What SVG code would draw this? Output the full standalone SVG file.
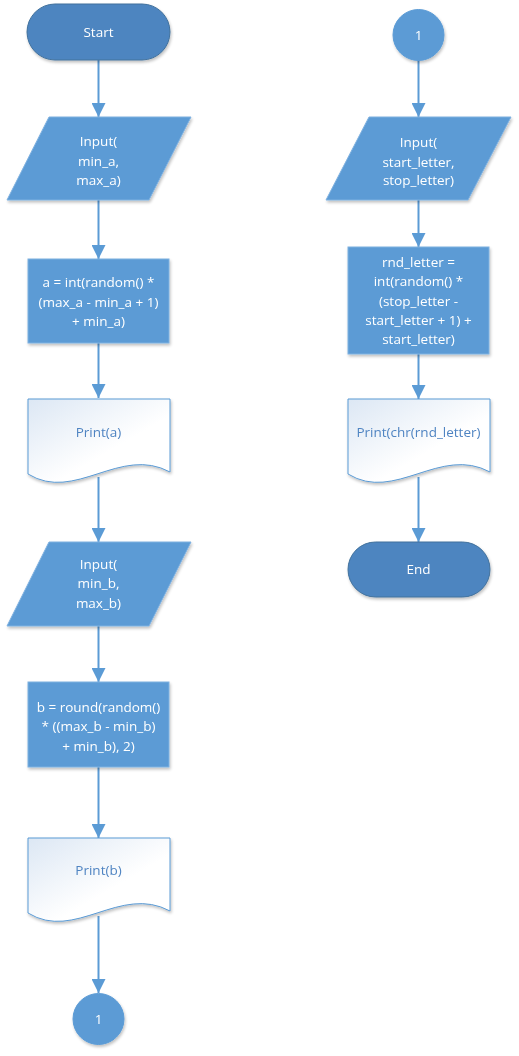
<svg xmlns="http://www.w3.org/2000/svg" width="519" height="1056" viewBox="0 0 519 1056">
<style>
text{font-family:"Open Sans","Liberation Sans",sans-serif;font-size:13.5px;text-anchor:middle}
.w{fill:#ffffff}
.b{fill:#4f84c2}
.term{fill:#4d85c0;stroke:#41719c;stroke-width:1}
.proc{fill:#5b9bd5;stroke:#7fb1e0;stroke-width:1}
.doc{fill:url(#dg);stroke:#5b9bd5;stroke-width:1}
.conn line{stroke:#5b9bd5;stroke-width:2;fill:none}
</style>
<defs>
<linearGradient id="dg" x1="0" y1="0" x2="1" y2="1">
<stop offset="0" stop-color="#dce7f4"/>
<stop offset="0.6" stop-color="#ffffff"/>
<stop offset="1" stop-color="#ffffff"/>
</linearGradient>
<filter id="sh" x="-10%" y="-10%" width="125%" height="130%">
<feGaussianBlur in="SourceAlpha" stdDeviation="1.5"/>
<feOffset dx="1" dy="2" result="o"/>
<feComponentTransfer><feFuncA type="linear" slope="0.25"/></feComponentTransfer>
<feMerge><feMergeNode/><feMergeNode in="SourceGraphic"/></feMerge>
</filter>
<marker id="ah" markerUnits="userSpaceOnUse" markerWidth="14" markerHeight="14" refX="14" refY="7" orient="auto">
<path d="M0,0 L14,7 L0,14 Z" fill="#5b9bd5"/>
</marker>
</defs>

<g class="conn" id="connectors">
<line x1="98.5" y1="60" x2="98.5" y2="117" marker-end="url(#ah)"/>
<line x1="98.5" y1="200" x2="98.5" y2="259" marker-end="url(#ah)"/>
<line x1="98.5" y1="343" x2="98.5" y2="398" marker-end="url(#ah)"/>
<line x1="98.5" y1="477" x2="98.5" y2="542" marker-end="url(#ah)"/>
<line x1="98.5" y1="626" x2="98.5" y2="682" marker-end="url(#ah)"/>
<line x1="98.5" y1="767" x2="98.5" y2="838" marker-end="url(#ah)"/>
<line x1="98.5" y1="916" x2="98.5" y2="993" marker-end="url(#ah)"/>
<line x1="418.5" y1="60" x2="418.5" y2="117" marker-end="url(#ah)"/>
<line x1="418.5" y1="200" x2="418.5" y2="247" marker-end="url(#ah)"/>
<line x1="418.5" y1="354" x2="418.5" y2="399" marker-end="url(#ah)"/>
<line x1="418.5" y1="477" x2="418.5" y2="542" marker-end="url(#ah)"/>
</g>

<g id="start" filter="url(#sh)">
<rect class="term" x="27" y="4" width="143" height="56" rx="28" ry="28"/>
<text class="w" x="98.5" y="37">Start</text>
</g>

<g id="input_a" filter="url(#sh)">
<polygon class="proc" points="49,117 191,117 149,200 7,200"/>
<text class="w" x="98.5" y="146">Input(</text>
<text class="w" x="98.5" y="166">min_a,</text>
<text class="w" x="98.5" y="185">max_a)</text>
</g>

<g id="calc_a" filter="url(#sh)">
<rect class="proc" x="28" y="259" width="141" height="84"/>
<text class="w" x="98.5" y="287">a = int(random() *</text>
<text class="w" x="98.5" y="307">(max_a - min_a + 1)</text>
<text class="w" x="98.5" y="326">+ min_a)</text>
</g>

<g id="print_a" filter="url(#sh)">
<path class="doc" d="M28,399 H170 V472 C120,445 75,503 28,474 Z"/>
<text class="b" x="98.5" y="437">Print(a)</text>
</g>

<g id="input_b" filter="url(#sh)">
<polygon class="proc" points="49,542 191,542 149,626 7,626"/>
<text class="w" x="98.5" y="569">Input(</text>
<text class="w" x="98.5" y="588">min_b,</text>
<text class="w" x="98.5" y="608">max_b)</text>
</g>

<g id="calc_b" filter="url(#sh)">
<rect class="proc" x="28" y="682" width="141" height="85"/>
<text class="w" x="98.5" y="712">b = round(random()</text>
<text class="w" x="98.5" y="731">* ((max_b - min_b)</text>
<text class="w" x="98.5" y="751">+ min_b), 2)</text>
</g>

<g id="print_b" filter="url(#sh)">
<path class="doc" d="M28,838 H170 V911 C120,884 75,942 28,913 Z"/>
<text class="b" x="98.5" y="875">Print(b)</text>
</g>

<g id="conn_out" filter="url(#sh)">
<circle class="proc" cx="98.5" cy="1019" r="25.5" style="stroke:#5b9bd5"/>
<text class="w" x="98.5" y="1024">1</text>
</g>

<g id="conn_in" filter="url(#sh)">
<circle class="proc" cx="418.5" cy="35" r="25.5" style="stroke:#5b9bd5"/>
<text class="w" x="418.5" y="40">1</text>
</g>

<g id="input_letters" filter="url(#sh)">
<polygon class="proc" points="369,117 511,117 468,200 326,200"/>
<text class="w" x="418.5" y="147">Input(</text>
<text class="w" x="418.5" y="167">start_letter,</text>
<text class="w" x="418.5" y="185">stop_letter)</text>
</g>

<g id="calc_letter" filter="url(#sh)">
<rect class="proc" x="348" y="247" width="141" height="107"/>
<text class="w" x="418.5" y="267">rnd_letter =</text>
<text class="w" x="418.5" y="286">int(random() *</text>
<text class="w" x="418.5" y="306">(stop_letter -</text>
<text class="w" x="418.5" y="325">start_letter + 1) +</text>
<text class="w" x="418.5" y="344">start_letter)</text>
</g>

<g id="print_letter" filter="url(#sh)">
<path class="doc" d="M348,399 H490 V472 C440,445 395,503 348,474 Z"/>
<text class="b" x="418.5" y="437">Print(chr(rnd_letter)</text>
</g>

<g id="end" filter="url(#sh)">
<rect class="term" x="348" y="542" width="142" height="55" rx="27.5" ry="27.5"/>
<text class="w" x="418.5" y="574">End</text>
</g>
</svg>
